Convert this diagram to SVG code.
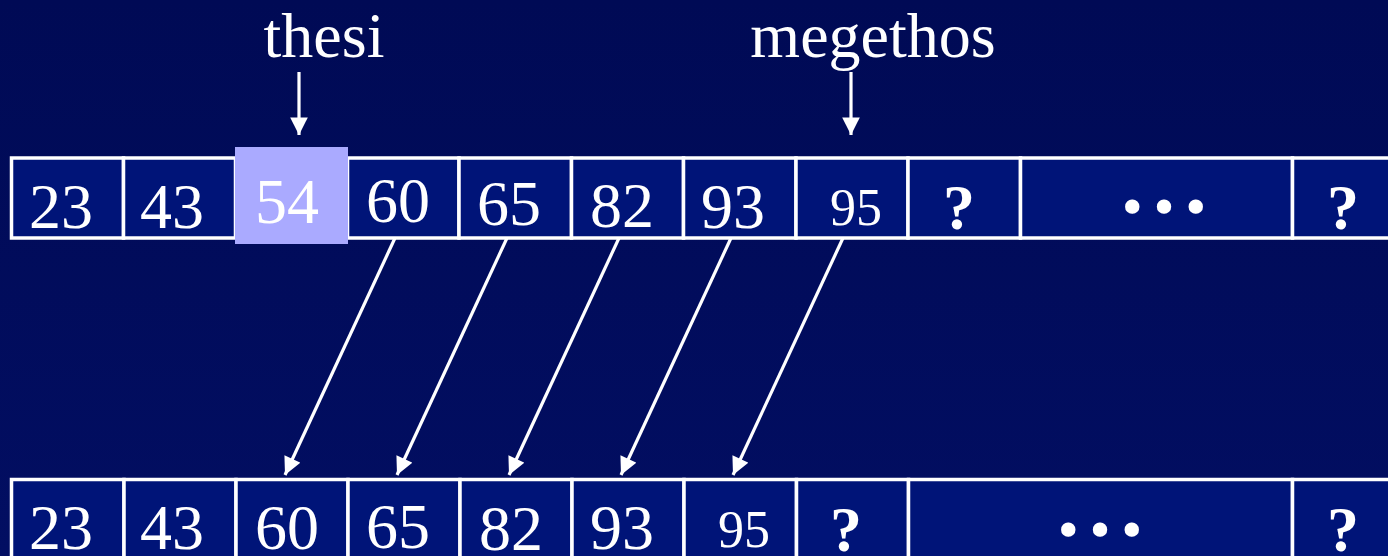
<svg xmlns="http://www.w3.org/2000/svg" width="1388" height="556" viewBox="0 0 1388 556">
<defs>
<linearGradient id="bg" x1="0" y1="0" x2="0" y2="1">
<stop offset="0" stop-color="#000A55"/>
<stop offset="1" stop-color="#020E62"/>
</linearGradient>
<marker id="ah" viewBox="0 0 10 10" refX="10" refY="5" markerWidth="6" markerHeight="5.5" markerUnits="strokeWidth" orient="auto">
<path d="M0,0 L10,5 L0,10 z" fill="#FFFFFF"/>
</marker>
<style>
.c{fill:#001478;stroke:#FFFFFF;stroke-width:3.5}
.t{font-family:"Liberation Serif","Times New Roman",serif;font-size:64px;fill:#FFFFFF;text-anchor:middle}
.s{font-size:52px}
.q{font-weight:bold}
.d{font-family:"Liberation Serif","Times New Roman",serif;font-size:53px;fill:#FFFFFF;text-anchor:middle;font-weight:bold}
.a{stroke:#FFFFFF;stroke-width:3.2;fill:none;marker-end:url(#ah)}
</style>
</defs>
<rect width="1388" height="556" fill="url(#bg)"/>

<g id="label-thesi"><text class="t" x="324" y="57">thesi</text></g>
<g id="label-megethos"><text class="t" x="873" y="57">megethos</text></g>

<g id="top-row">
<g id="t0"><rect class="c" x="11.5" y="158" width="112" height="80"/><text class="t" x="61" y="228">23</text></g>
<g id="t1"><rect class="c" x="123.5" y="158" width="112" height="80"/><text class="t" x="172" y="228">43</text></g>
<g id="t3"><rect class="c" x="347.5" y="158" width="111.5" height="80"/><text class="t" x="398" y="222">60</text></g>
<g id="t4"><rect class="c" x="459" y="158" width="112.5" height="80"/><text class="t" x="509" y="225">65</text></g>
<g id="t5"><rect class="c" x="571.5" y="158" width="112" height="80"/><text class="t" x="622" y="227">82</text></g>
<g id="t6"><rect class="c" x="683.5" y="158" width="112.5" height="80"/><text class="t" x="733" y="228">93</text></g>
<g id="t7"><rect class="c" x="796" y="158" width="112" height="80"/><text class="t s" x="856" y="225">95</text></g>
<g id="t8"><rect class="c" x="908" y="158" width="112.5" height="80"/><text class="t q" x="959" y="229">?</text></g>
<g id="t9"><rect class="c" x="1020.5" y="158" width="272" height="80"/><text class="d" x="1164" y="224">• • •</text></g>
<g id="t10"><rect class="c" x="1292.5" y="158" width="120" height="80"/><text class="t q" x="1343" y="229">?</text></g>
<g id="t2"><rect x="235" y="147" width="113" height="97" fill="#AAAAFF"/><text class="t" x="287" y="223">54</text></g>
</g>

<g id="bottom-row">
<g id="b0"><rect class="c" x="11.5" y="479.5" width="112.5" height="100"/><text class="t" x="61" y="549">23</text></g>
<g id="b1"><rect class="c" x="124" y="479.5" width="112" height="100"/><text class="t" x="172" y="549">43</text></g>
<g id="b2"><rect class="c" x="236" y="479.5" width="112" height="100"/><text class="t" x="287" y="549">60</text></g>
<g id="b3"><rect class="c" x="348" y="479.5" width="112" height="100"/><text class="t" x="398" y="548">65</text></g>
<g id="b4"><rect class="c" x="460" y="479.5" width="112" height="100"/><text class="t" x="511" y="550">82</text></g>
<g id="b5"><rect class="c" x="572" y="479.5" width="112" height="100"/><text class="t" x="622" y="549">93</text></g>
<g id="b6"><rect class="c" x="684" y="479.5" width="112.5" height="100"/><text class="t s" x="744" y="547">95</text></g>
<g id="b7"><rect class="c" x="796.5" y="479.5" width="112" height="100"/><text class="t q" x="846" y="551">?</text></g>
<g id="b8"><rect class="c" x="908.5" y="479.5" width="384" height="100"/><text class="d" x="1100" y="547">• • •</text></g>
<g id="b9"><rect class="c" x="1292.5" y="479.5" width="120" height="100"/><text class="t q" x="1343" y="551">?</text></g>
</g>

<g id="connectors">
<line class="a" x1="299" y1="72" x2="299" y2="135"/>
<line class="a" x1="851" y1="72" x2="851" y2="135"/>
<line class="a" x1="395" y1="238" x2="285" y2="475"/>
<line class="a" x1="507" y1="238" x2="397" y2="475"/>
<line class="a" x1="619" y1="238" x2="509" y2="475"/>
<line class="a" x1="731" y1="238" x2="621" y2="475"/>
<line class="a" x1="843" y1="238" x2="733" y2="475"/>
</g>
</svg>
